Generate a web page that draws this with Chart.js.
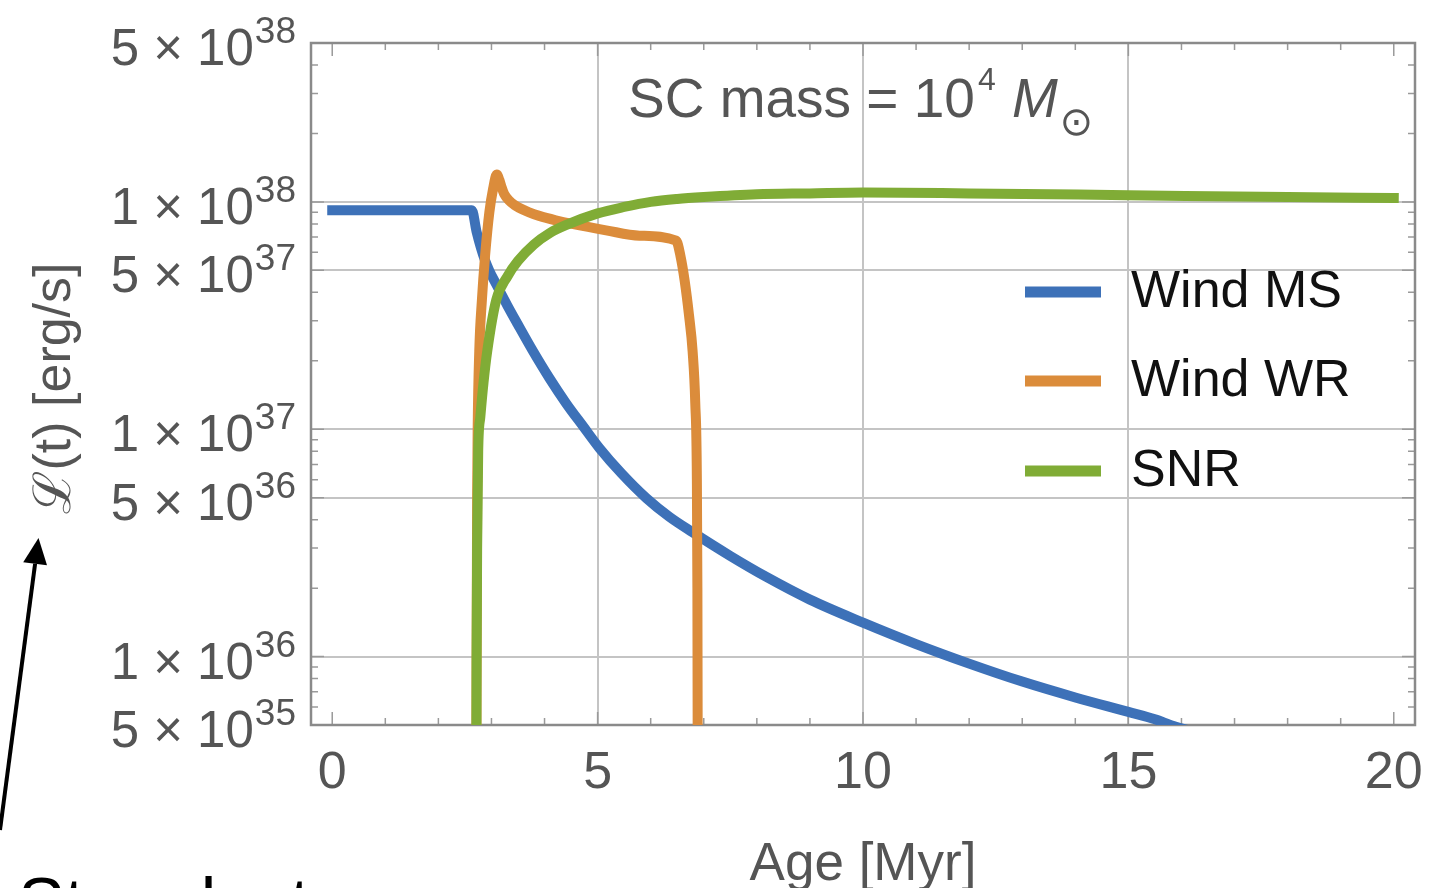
<!DOCTYPE html>
<html>
<head>
<meta charset="utf-8">
<script src="https://cdn.jsdelivr.net/npm/chart.js@4"></script>
<style>
  html, body { margin: 0; padding: 0; background: #fff; }
  #wrap { width: 1449px; height: 888px; position: relative; }
</style>
</head>
<body>
<div id="wrap"><canvas id="lumChart"></canvas></div>
<script>
// main-sequence winds
const ageMS = [0, 2.63, 2.72, 2.80, 2.88, 2.96, 3.09, 3.30, 3.49, 3.77, 4.09, 4.41, 4.72, 5.03,
  5.45, 5.92, 6.35, 6.79, 7.50, 8.18, 9.0, 10.0, 11.0, 12.0, 13.0, 14.0, 15.0, 15.5, 15.85, 16.5];
const lumMS = [9.2e37, 9.2e37, 7.38e37, 6.3e37, 5.52e37, 4.98e37, 4.34e37, 3.5e37, 2.91e37, 2.23e37,
  1.68e37, 1.297e37, 1.035e37, 8.28e36, 6.39e36, 4.97e36, 4.12e36, 3.52e36, 2.77e36, 2.24e36,
  1.78e36, 1.41e36, 1.135e36, 9.31e35, 7.76e35, 6.61e35, 5.71e35, 5.3e35, 4.95e35, 4.5e35];

// Wolf-Rayet winds
const ageWR = [2.71, 2.72, 2.73, 2.74, 2.77, 2.82, 2.88, 2.96, 3.03, 3.10, 3.15, 3.19, 3.24, 3.34, 3.43,
  3.52, 3.71, 3.90, 4.21, 4.52, 5.16, 5.79, 6.48, 6.56, 6.64, 6.72, 6.79, 6.84, 6.87, 6.88, 6.89];
const lumWR = [1e35, 1e36, 5e36, 1e37, 2.2e37, 3.7e37, 5.8e37, 9e37, 1.14e38, 1.32e38, 1.247e38, 1.163e38,
  1.084e38, 1.01e38, 9.7e37, 9.42e37, 9.0e37, 8.68e37, 8.3e37, 8.0e37, 7.5e37, 7.1e37, 6.75e37,
  5.8e37, 4.5e37, 3.2e37, 2.2e37, 1.3e37, 6e36, 2e36, 1e35];

// supernova remnants
const ageSNR = [2.71, 2.72, 2.73, 2.75, 2.79, 2.85, 2.92, 3.09, 3.30, 3.50, 3.80, 4.10, 4.40, 5.0,
  5.5, 6.0, 6.5, 7.0, 8.0, 9.0, 10.0, 12.0, 15.0, 18.0, 20.0];
const lumSNR = [1e35, 1e36, 3e36, 8e36, 1.13e37, 1.6e37, 2.2e37, 3.7e37, 4.7e37, 5.5e37, 6.5e37,
  7.3e37, 7.9e37, 8.9e37, 9.5e37, 1.0e38, 1.03e38, 1.05e38, 1.08e38, 1.09e38, 1.1e38, 1.09e38,
  1.07e38, 1.05e38, 1.04e38];

const seriesLabels = ['Wind MS', 'Wind WR', 'SNR'];
const seriesColors = ['#3d71b8', '#db8c3b', '#80ac36'];

const xTicks = [0, 5, 10, 15, 20];
const xGridAt = [5, 10, 15];
const yTicks = [5e35, 1e36, 5e36, 1e37, 5e37, 1e38, 5e38];

const FONT = '"Liberation Sans", Arial, Helvetica, sans-serif';
const GREY_TEXT = '#555555';
const GRID = '#c4c4c4';

function pairs(xs, ys) {
  return xs.map((v, i) => ({ x: v, y: ys[i] }));
}

function mantissa(v) {
  const e = Math.floor(Math.log10(v) + 1e-9);
  return { m: Math.round(v / Math.pow(10, e)), e: e };
}

// inward tick marks + plot frame
const framePlugin = {
  id: 'frame',
  beforeDatasetsDraw(chart) {
    const { ctx, chartArea: a, scales } = chart;
    const x = scales.x, y = scales.y;
    ctx.save();
    ctx.strokeStyle = '#9a9a9a';
    ctx.lineWidth = 1.5;
    ctx.beginPath();
    for (let v = 0; v <= 20; v++) {
      const px = x.getPixelForValue(v);
      const len = v % 5 === 0 ? 13 : 7;
      ctx.moveTo(px, a.bottom); ctx.lineTo(px, a.bottom - len);
      ctx.moveTo(px, a.top); ctx.lineTo(px, a.top + len);
    }
    for (let e = 35; e <= 38; e++) {
      for (let m = 1; m <= 9; m++) {
        const v = m * Math.pow(10, e);
        if (v < 5e35 * 0.999 || v > 5e38 * 1.001) continue;
        const py = y.getPixelForValue(v);
        const len = (m === 1 || m === 5) ? 13 : 7;
        ctx.moveTo(a.left, py); ctx.lineTo(a.left + len, py);
        ctx.moveTo(a.right, py); ctx.lineTo(a.right - len, py);
      }
    }
    ctx.stroke();
    ctx.strokeStyle = '#8a8a8a';
    ctx.lineWidth = 2.5;
    ctx.strokeRect(a.left, a.top, a.right - a.left, a.bottom - a.top);
    ctx.restore();
  }
};

// tick labels, titles, legend and the note
const textPlugin = {
  id: 'texts',
  afterDraw(chart) {
    const { ctx, scales } = chart;
    const x = scales.x, y = scales.y;
    ctx.save();
    ctx.fillStyle = GREY_TEXT;
    ctx.textBaseline = 'alphabetic';

    // y tick labels: "m × 10^e"
    yTicks.forEach(v => {
      const t = mantissa(v);
      const base = y.getPixelForValue(v) + 22;
      ctx.font = '37px ' + FONT;
      ctx.textAlign = 'right';
      const expStr = String(t.e);
      const ew = ctx.measureText(expStr).width;
      ctx.fillText(expStr, 296, base - 22);
      ctx.font = '51px ' + FONT;
      ctx.fillText(t.m + ' \u00d7 10', 296 - ew - 1, base);
    });

    // x tick labels
    ctx.font = '52px ' + FONT;
    ctx.textAlign = 'center';
    xTicks.forEach(v => ctx.fillText(String(v), x.getPixelForValue(v), 788));

    // axis titles
    ctx.font = '53px ' + FONT;
    ctx.fillText('Age [Myr]', (chart.chartArea.left + chart.chartArea.right) / 2, 880);
    ctx.save();
    ctx.translate(70, 388);
    ctx.rotate(-Math.PI / 2);
    ctx.font = '52px ' + FONT;
    ctx.fillText('\u2112(t) [erg/s]', 0, 0);
    ctx.restore();

    // cluster mass note
    ctx.textAlign = 'left';
    ctx.font = '55px ' + FONT;
    const note = 'SC mass = 10';
    ctx.fillText(note, 628, 117);
    let nx = 628 + ctx.measureText(note).width + 3;
    ctx.font = '32px ' + FONT;
    ctx.fillText('4', nx, 90);
    ctx.font = 'italic 55px ' + FONT;
    ctx.fillText('M', 1012, 117);
    ctx.font = '40px "DejaVu Sans", sans-serif';
    const sun = ctx.measureText('\u2299');
    const sw = sun.actualBoundingBoxRight + sun.actualBoundingBoxLeft;
    const sh = sun.actualBoundingBoxAscent + sun.actualBoundingBoxDescent;
    ctx.fillText('\u2299', 1076 - sw / 2 + sun.actualBoundingBoxLeft,
      122.5 + sh / 2 - sun.actualBoundingBoxDescent);

    // legend
    const rows = [292, 381, 471];
    ctx.font = '52px ' + FONT;
    ctx.textBaseline = 'middle';
    seriesLabels.forEach((lab, i) => {
      ctx.strokeStyle = seriesColors[i];
      ctx.lineWidth = 11;
      ctx.lineCap = 'butt';
      ctx.beginPath();
      ctx.moveTo(1025, rows[i]);
      ctx.lineTo(1101, rows[i]);
      ctx.stroke();
      ctx.fillStyle = '#111111';
      ctx.fillText(lab, 1131, rows[i] + 1);
    });

    // arrow pointing at the y title
    const tip = { x: 38.5, y: 538 };
    const tail = { x: 0, y: 830 };
    const dx = tip.x - tail.x, dy = tip.y - tail.y;
    const len = Math.hypot(dx, dy);
    const ux = dx / len, uy = dy / len;
    const bx = tip.x - ux * 26, by = tip.y - uy * 26;
    ctx.strokeStyle = '#000';
    ctx.fillStyle = '#000';
    ctx.lineWidth = 4;
    ctx.beginPath();
    ctx.moveTo(tail.x, tail.y);
    ctx.lineTo(bx, by);
    ctx.stroke();
    ctx.beginPath();
    ctx.moveTo(tip.x, tip.y);
    ctx.lineTo(bx - uy * 12, by + ux * 12);
    ctx.lineTo(bx + uy * 12, by - ux * 12);
    ctx.closePath();
    ctx.fill();

    ctx.textBaseline = 'alphabetic';
    ctx.font = '70px ' + FONT;
    ctx.fillText('Star clusters', 18, 927);
    ctx.restore();
  }
};

const lumData = [pairs(ageMS, lumMS), pairs(ageWR, lumWR), pairs(ageSNR, lumSNR)];

new Chart(document.getElementById('lumChart'), {
  type: 'line',
  data: {
    datasets: seriesLabels.map((lab, i) => ({
      label: lab,
      data: lumData[i],
      borderColor: seriesColors[i],
      borderWidth: 10,
      pointRadius: 0,
      fill: false,
      cubicInterpolationMode: 'monotone',
      borderJoinStyle: 'round',
      borderCapStyle: 'square',
      clip: 0,
      order: 3 - i
    }))
  },
  options: {
    responsive: true,
    maintainAspectRatio: false,
    animation: false,
    layout: { padding: { left: 311, right: 34, top: 43, bottom: 163 } },
    plugins: { legend: { display: false }, tooltip: { enabled: false } },
    scales: {
      x: {
        type: 'linear',
        min: -0.4,
        max: 20.4,
        afterBuildTicks: s => { s.ticks = xTicks.map(v => ({ value: v })); },
        ticks: { display: false },
        border: { display: false },
        grid: {
          drawTicks: false,
          lineWidth: 2,
          color: c => xGridAt.includes(c.tick.value) ? GRID : 'rgba(0,0,0,0)'
        }
      },
      y: {
        type: 'logarithmic',
        min: 5e35,
        max: 5e38,
        afterBuildTicks: s => { s.ticks = yTicks.map(v => ({ value: v })); },
        ticks: { display: false },
        border: { display: false },
        grid: {
          drawTicks: false,
          lineWidth: 2,
          color: c => (c.tick.value > 5e35 && c.tick.value < 5e38) ? GRID : 'rgba(0,0,0,0)'
        }
      }
    }
  },
  plugins: [framePlugin, textPlugin]
});
</script>
</body>
</html>
